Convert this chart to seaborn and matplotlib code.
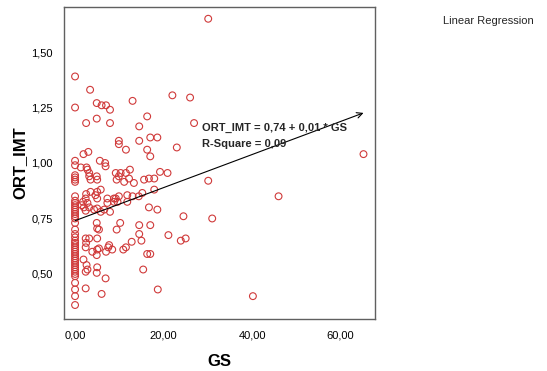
import matplotlib
matplotlib.use("Agg")
import numpy as np
import pandas as pd
import matplotlib.pyplot as plt
import seaborn as sns

# --- data (GS vs ORT_IMT) ---
gs = [
    0, 0, 0, 0, 0, 0, 0, 0, 0, 0, 0, 0, 0, 0, 0, 0, 0, 0, 0, 0, 0, 0,
    0, 0, 0, 0, 0, 0, 0, 0, 0, 0, 0, 0, 0, 0, 0, 0, 0, 0, 0, 0, 0,
    1.3, 1.9, 3.0, 2.6, 2.8, 3.2, 3.2, 3.5, 3.4, 2.5, 4.9, 4.9, 6.0, 7.0, 7.9,
    7.9, 13.0, 16.3, 14.5, 22.0, 26.0, 26.9, 30.1, 9.9, 9.9, 11.5, 14.5, 17.0,
    18.6, 16.3, 17.0, 23.0, 5.6, 6.8, 6.9, 5.0, 9.2, 9.9, 10.3, 11.5, 11.1,
    12.2, 13.3, 15.6, 16.7, 17.9, 19.2, 20.9, 30.1, 3.5, 5.0, 2.4, 5.0, 5.8,
    7.3, 8.8, 9.9, 11.8, 13.0, 15.2, 17.9, 2.5, 4.6, 1.5, 2.0, 2.4, 2.8, 3.2,
    1.8, 4.3, 5.0, 5.8, 6.6, 7.3, 8.8, 9.2, 9.6, 11.8, 7.9, 16.7, 18.6, 24.5,
    31.0, 4.9, 5.0, 5.4, 9.4, 10.2, 14.5, 17.0, 14.5, 15.0, 21.1, 23.9, 25.0,
    2.4, 3.2, 2.5, 5.0, 2.4, 3.9, 5.0, 5.4, 7.0, 7.5, 7.7, 8.4, 10.9, 11.5,
    12.8, 16.3, 17.0, 15.4, 18.7, 46.0, 40.2, 65.2, 1.9, 2.6, 2.8, 2.4, 4.9,
    5.0, 4.9, 6.9, 2.4, 6.0, 14.4, 12.4, 9.4, 4.9,
]
ort_imt = [
    1.39, 1.25, 1.01, 0.99, 0.945, 0.935, 0.925, 0.915, 0.85, 0.83, 0.82,
    0.81, 0.80, 0.79, 0.78, 0.77, 0.76, 0.75, 0.73, 0.70, 0.68, 0.665,
    0.65, 0.64, 0.63, 0.62, 0.61, 0.60, 0.59, 0.58, 0.57, 0.56, 0.55, 0.54,
    0.53, 0.52, 0.51, 0.50, 0.49, 0.46, 0.43, 0.40, 0.36,
    0.98, 1.04, 1.05, 0.98, 0.97, 0.955, 0.94, 0.925, 1.33, 1.18, 1.20, 1.27,
    1.26, 1.26, 1.24, 1.18, 1.28, 1.21, 1.165, 1.305, 1.295, 1.18, 1.65, 1.10,
    1.085, 1.06, 1.10, 1.115, 1.115, 1.06, 1.03, 1.07, 1.01, 1.00, 0.985,
    0.925, 0.955, 0.94, 0.955, 0.955, 0.915, 0.93, 0.91, 0.925, 0.93, 0.93,
    0.96, 0.955, 0.92, 0.87, 0.87, 0.84, 0.84, 0.88, 0.84, 0.84, 0.85, 0.855,
    0.85, 0.865, 0.88, 0.86, 0.855, 0.81, 0.80, 0.785, 0.82, 0.80, 0.825,
    0.79, 0.795, 0.78, 0.79, 0.82, 0.825, 0.84, 0.825, 0.825, 0.78, 0.80,
    0.79, 0.76, 0.75, 0.73, 0.705, 0.70, 0.70, 0.73, 0.72, 0.72, 0.68, 0.65,
    0.675, 0.65, 0.66, 0.66, 0.66, 0.64, 0.66, 0.62, 0.60, 0.61, 0.615, 0.60,
    0.62, 0.63, 0.61, 0.61, 0.62, 0.645, 0.59, 0.59, 0.52, 0.43, 0.85, 0.40,
    1.04, 0.565, 0.54, 0.52, 0.51, 0.585, 0.53, 0.505, 0.48, 0.435, 0.41,
    0.85, 0.97, 0.925, 0.94,
]

# fit line as printed on the chart
intercept = 0.74
slope = 0.00745

x_ticks = [0, 20, 40, 60]
y_ticks = [0.50, 0.75, 1.00, 1.25, 1.50]

df = pd.DataFrame({"GS": gs, "ORT_IMT": ort_imt})

sns.set_style("white")
plt.rcParams["font.family"] = ["Liberation Sans", "DejaVu Sans"]

fig = plt.figure(figsize=(5.47, 3.71), dpi=100)
ax = fig.add_axes([64 / 547, 1 - 319 / 371, 311 / 547, 312 / 371])

sns.scatterplot(data=df, x="GS", y="ORT_IMT", ax=ax, marker="o", s=24,
                facecolor="none", edgecolor="#d03a3a", linewidth=0.8)

# regression line with arrow head at the right end
x_end = max(gs)
ax.annotate("", xy=(x_end, intercept + slope * x_end), xytext=(0, intercept),
            arrowprops=dict(arrowstyle="->", color="black", lw=0.8,
                            shrinkA=0, shrinkB=0))

ax.text(28.8, 1.16, "ORT_IMT = 0,74 + 0,01 * GS", fontsize=8,
        fontweight="bold", va="center")
ax.text(28.8, 1.085, "R-Square = 0,09", fontsize=8,
        fontweight="bold", va="center")

ax.set_xlim(-2.5, 67.8)
ax.set_ylim(0.297, 1.703)
ax.set_xticks(x_ticks)
ax.set_xticklabels([f"{v:.2f}".replace(".", ",") for v in x_ticks])
ax.set_yticks(y_ticks)
ax.set_yticklabels([f"{v:.2f}".replace(".", ",") for v in y_ticks])
ax.tick_params(axis="both", direction="out", length=5, width=1.5,
               color="black", labelcolor="black", labelsize=8, pad=3)

for sp in ax.spines.values():
    sp.set_color("#606060")
    sp.set_linewidth(1.0)

ax.set_xlabel("GS", fontsize=12, fontweight="bold", labelpad=10, color="black")
ax.set_ylabel("ORT_IMT", fontsize=12, fontweight="bold", labelpad=3, color="black")

fig.text(443 / 547, 1 - 21 / 371, "Linear Regression", fontsize=8,
         va="center", ha="left")

fig.savefig("out.png", dpi=100)
